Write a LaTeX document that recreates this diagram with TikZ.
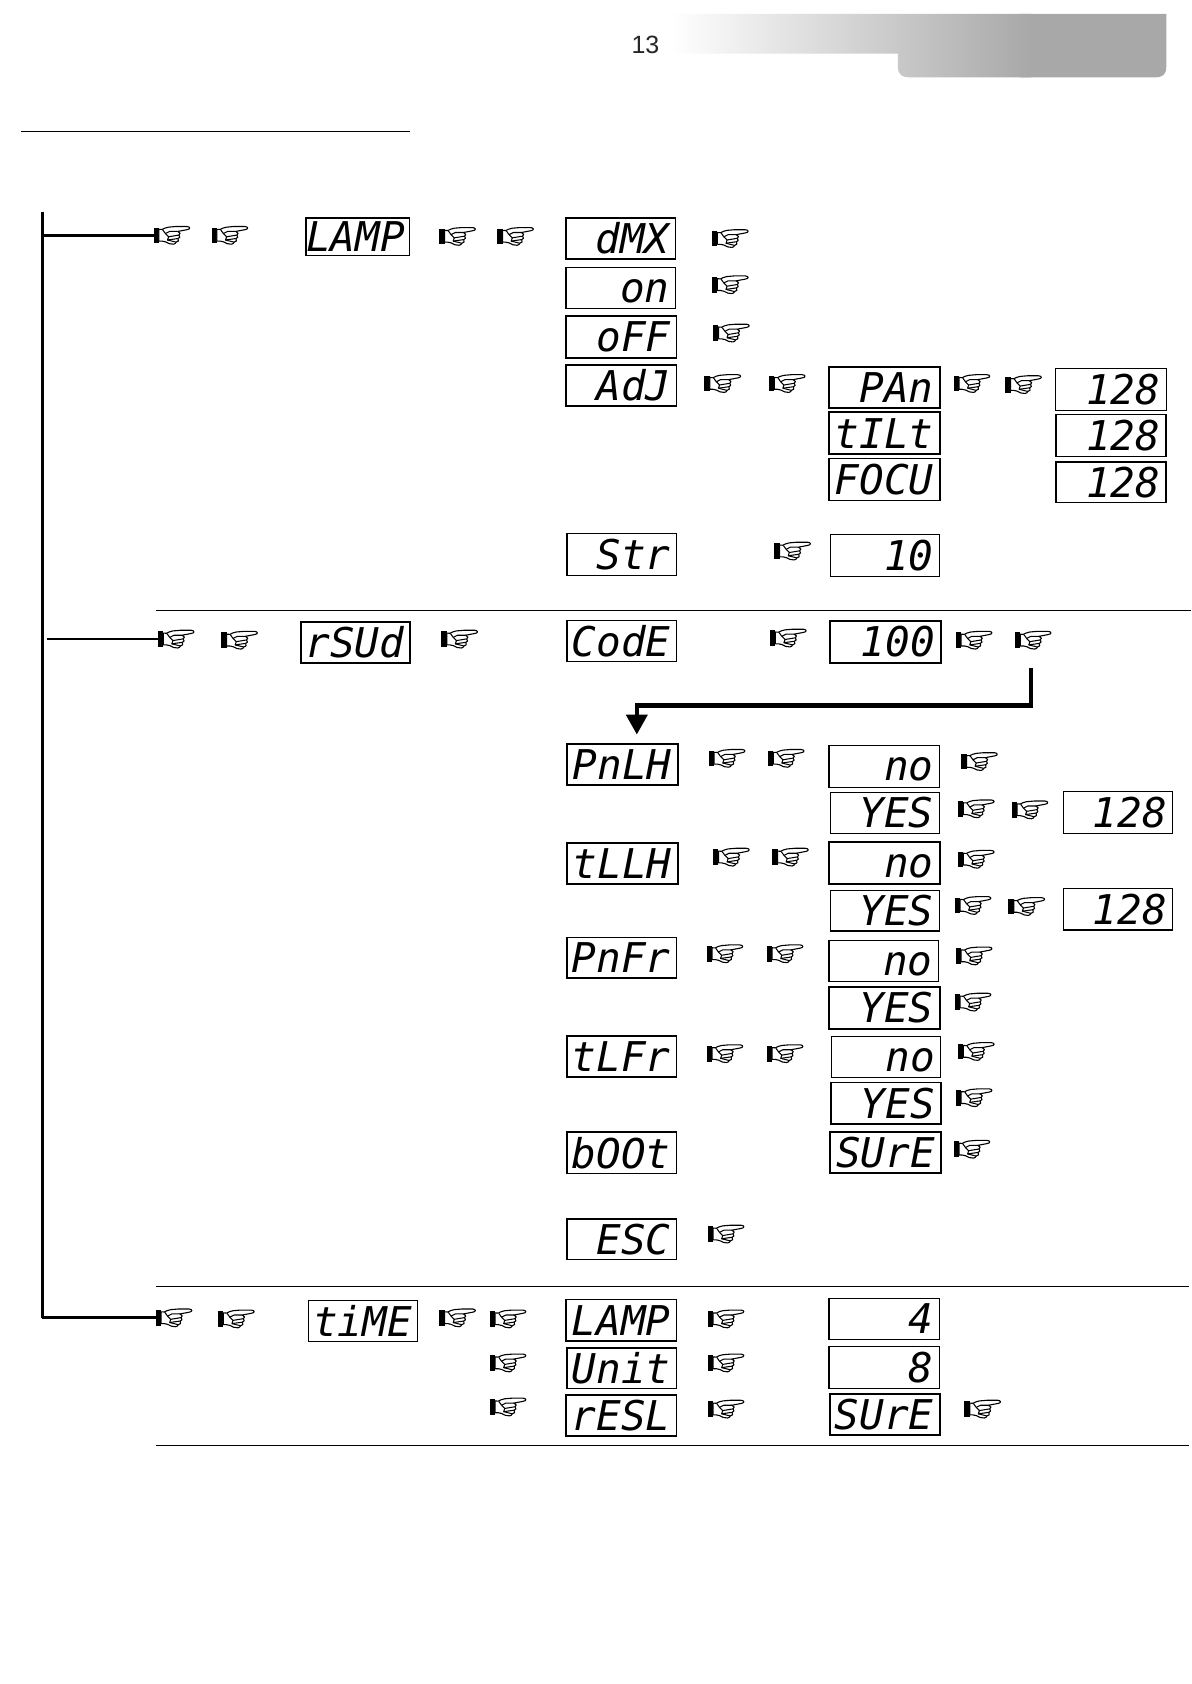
\documentclass[tikz,border=0pt]{standalone}
\usepackage{fontspec}
\setmainfont{DejaVu Sans}
\newfontfamily\lcdfont{DejaVu Sans Mono}
\newfontfamily\pagefont{Liberation Sans}
\usetikzlibrary{arrows.meta}
\tikzset{
  x=1.0739pt,y=-1.0739pt,
  lcdbox/.style={draw=black,line width=1.8pt,inner sep=0pt,outer sep=0pt,fill=white,font=\lcdfont\itshape\fontsize{41}{41}\selectfont},
  thin box/.style={line width=1.2pt},
  handbox/.style={inner sep=0pt,outer sep=0pt,minimum width=38pt,minimum height=20pt,anchor=west},
  handline/.style={line width=1.05pt,line join=round},
  trunk/.style={line width=2.8pt,black},
  rulerline/.style={line width=.9pt,black},
}
\newcommand\lcd[7][]{%
  \pgfmathsetmacro\lcx{(#3+#5)/2}\pgfmathsetmacro\lcy{(#4+#6)/2}%
  \pgfmathsetmacro\lw{(#5-#3)*1.0739}\pgfmathsetmacro\lh{(#6-#4)*1.0739}%
  \node[lcdbox,minimum width=\lw pt,minimum height=\lh pt,#1] (#2) at (\lcx,\lcy)
    {\hbox to \lw pt{\vrule height 30pt width 0pt\hfil #7\hskip 6pt}};}
\newcommand\hand[3]{%
  \node[handbox] (#1) at (#2,#3) {};
  \begin{scope}[shift={(#2,#3)},shift={(0,-8.5)}]
    \fill[black] (0,1.4) rectangle (5,16);
    \draw[line width=1.1pt,fill=white,line join=round] (5,3) -- (8,3.2) .. controls (10,2.5) and (11,1.2) .. (14,1.0) -- (21,.4) -- (31,.4) .. controls (34.5,.6) and (34.5,3) .. (31,3.4) -- (22.5,5)
      .. controls (25,5.5) and (25.5,8) .. (23.6,8.4) .. controls (25,9.5) and (24.6,11.6) .. (22.8,11.6) .. controls (24,13) and (23,15.2) .. (21,15)
      .. controls (20.6,17) and (17,17.6) .. (14.6,16.4) .. controls (12,15.2) and (10.5,14) .. (8,14) -- (5,14) -- cycle;
    \draw[handline] (8.5,3.5) -- (11,7) -- (15,5) -- (22.5,5);
    \draw[handline] (11,7) -- (14,10) -- (23.6,8.4);
    \draw[handline] (14,10) -- (13,13) -- (22.8,11.6);
    \draw[handline] (13,13) -- (21,15);
  \end{scope}}
\begin{document}
\begin{tikzpicture}
\useasboundingbox (0,0) rectangle (1109.05,1568.1);
\fill[white] (0,0) rectangle (1109.05,1568.1);
% header
\begin{scope}
\clip (625,13) -- (1086,13) -- (1086,62) .. controls (1086,69) and (1083,72) .. (1076,72) -- (846,72) .. controls (840,72) and (836,69) .. (836,62) -- (836,50) -- (625,50) -- cycle;
\fill[black!34] (950,10) rectangle (1090,75);
\shade[left color=white,right color=black!34] (625,10) rectangle (960,75);
\end{scope}
\node[inner sep=0pt,font=\pagefont\fontsize{25}{25}\selectfont,text=black!85] (page) at (601,42) {13};
% rules
\coordinate (ra) at (20,122); \coordinate (rb) at (382,122);
\draw[rulerline] (ra) -- (rb);
\coordinate (s1a) at (145,568); \coordinate (s1b) at (1109,568);
\coordinate (s2a) at (145,1198); \coordinate (s2b) at (1107,1198);
\coordinate (s3a) at (145,1346); \coordinate (s3b) at (1107,1346);
\draw[rulerline] (s1a) -- (s1b);
\draw[rulerline] (s2a) -- (s2b);
\draw[rulerline] (s3a) -- (s3b);
% left column
\lcd[thin box]{lLamp}{285}{203}{381}{238}{LAMP}
\lcd{lRsud}{280}{579}{382}{617}{rSUd}
\lcd[thin box]{lTime}{287}{1211}{389}{1249}{tiME}
% column A
\lcd{aDmx}{527}{203}{629}{241}{dMX}
\lcd[thin box]{aOn}{527}{249}{629}{287}{on}
\lcd{aOff}{527}{294}{630}{333}{oFF}
\lcd{aAdj}{527}{340}{630}{378}{AdJ}
\lcd[thin box]{aStr}{528}{497}{630}{536}{Str}
\lcd[thin box]{aCode}{528}{578}{630}{616}{CodE}
\lcd{aPnlh}{528}{693}{631}{731}{PnLH}
\lcd{aTllh}{528}{785}{631}{823}{tLLH}
\lcd{aPnfr}{528}{873}{630}{911}{PnFr}
\lcd{aTlfr}{528}{965}{630}{1003}{tLFr}
\lcd[thin box]{aBoot}{528}{1054}{630}{1093}{bOOt}
\lcd[thin box]{aEsc}{528}{1135}{630}{1173}{ESC}
\lcd{aLamp}{527}{1210}{630}{1249}{LAMP}
\lcd{aUnit}{528}{1255}{630}{1293}{Unit}
\lcd{aResl}{527}{1299}{630}{1337}{rESL}
% column B
\lcd{bPan}{772}{342}{875}{380}{PAn}
\lcd{bTilt}{772}{384}{875}{423}{tILt}
\lcd{bFocu}{772}{427}{875}{466}{FOCU}
\lcd[thin box]{bTen}{773}{498}{875}{537}{10}
\lcd{bHund}{773}{578}{876}{617}{100}
\lcd[thin box]{bNoA}{772}{694}{875}{733}{no}
\lcd[thin box]{bYesA}{773}{738}{875}{776}{YES}
\lcd{bNoB}{772}{784}{875}{823}{no}
\lcd[thin box]{bYesB}{773}{829}{875}{867}{YES}
\lcd[thin box]{bNoC}{772}{876}{874}{914}{no}
\lcd{bYesC}{772}{919}{875}{958}{YES}
\lcd[thin box]{bNoD}{774}{965}{876}{1003}{no}
\lcd{bYesD}{774}{1008}{876}{1047}{YES}
\lcd{bSureA}{773}{1054}{876}{1092}{SUrE}
\lcd[thin box]{bFour}{772}{1209}{875}{1247}{4}
\lcd[thin box]{bEight}{772}{1254}{875}{1293}{8}
\lcd{bSureB}{773}{1298}{875}{1336}{SUrE}
% column C
\lcd[thin box]{cA}{983}{343}{1086}{382}{128}
\lcd{cB}{983}{386}{1086}{425}{128}
\lcd{cC}{983}{430}{1086}{468}{128}
\lcd[thin box]{cD}{990}{737}{1092}{776}{128}
\lcd[thin box]{cE}{990}{827}{1092}{866}{128}
% hands
\hand{h1}{143}{219}\hand{h2}{197}{219}\hand{h3}{409}{220}\hand{h4}{463}{220}\hand{h5}{663}{222}
\hand{h6}{663}{265}\hand{h7}{664}{310}
\hand{h8}{656}{357}\hand{h9}{716}{357}\hand{h10}{888}{357}\hand{h11}{936}{358}
\hand{h12}{721}{513}
\hand{h13}{147}{595}\hand{h14}{206}{596}\hand{h15}{411}{595}\hand{h16}{717}{594}\hand{h17}{890}{596}\hand{h18}{945}{596}
\hand{h19}{660}{706}\hand{h20}{715}{706}\hand{h21}{895}{709}\hand{h22}{892}{753}\hand{h23}{942}{754}
\hand{h24}{664}{798}\hand{h25}{719}{798}\hand{h26}{892}{800}\hand{h27}{889}{843}\hand{h28}{939}{844}
\hand{h29}{658}{888}\hand{h30}{714}{888}\hand{h31}{890}{890}\hand{h32}{889}{933}
\hand{h33}{658}{981}\hand{h34}{714}{981}\hand{h35}{892}{979}\hand{h36}{890}{1022}\hand{h37}{888}{1070}
\hand{h38}{659}{1149}
\hand{h39}{145}{1227}\hand{h40}{203}{1228}\hand{h41}{409}{1227}\hand{h42}{456}{1228}\hand{h43}{659}{1228}
\hand{h44}{456}{1269}\hand{h45}{659}{1269}
\hand{h46}{456}{1310}\hand{h47}{659}{1312}\hand{h48}{898}{1312}
% trunk and branches
\coordinate (top) at (39.5,197);
\coordinate (bot) at (39.5,1227);
\coordinate (tb1) at (39.5,219);
\coordinate (tb2) at (44,595);
\draw[trunk] (top) -- (bot);
\draw[trunk] (tb1) -- (h1.west);
\draw[trunk] (tb2) -- (h13.west);
\draw[trunk] (bot) -- (h39.west);
% arrow
\coordinate (af) at (960,622);
\coordinate (ac) at (960,657);
\coordinate (ad) at (593,657);
\coordinate (ae) at (593,684);
\draw[line width=4.2pt,-{Triangle[length=20pt,width=21pt]}] (af) -- (ac) -- (ad) -- (ae);
\end{tikzpicture}
\end{document}
